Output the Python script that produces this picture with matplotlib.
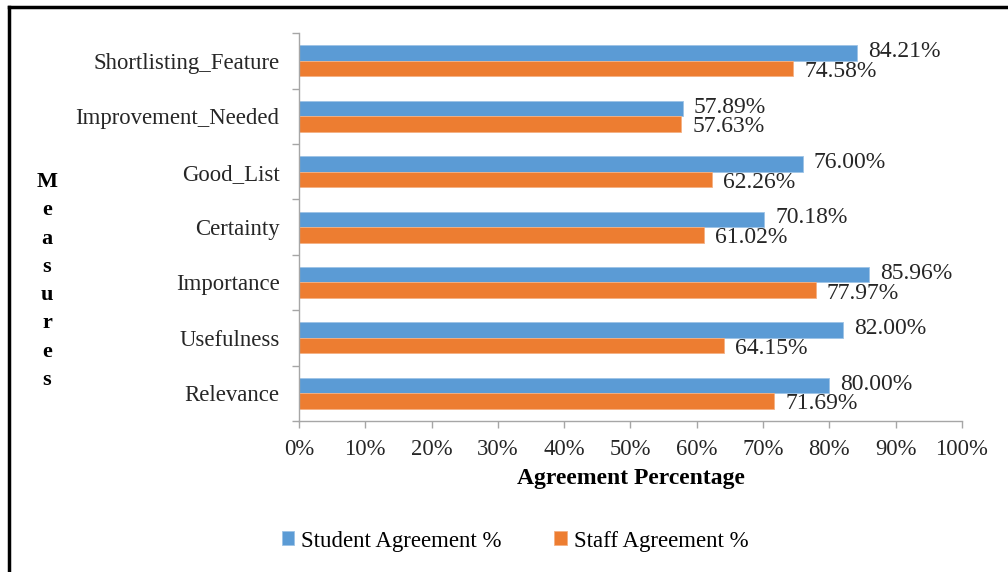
import matplotlib.pyplot as plt
import numpy as np

plt.rcParams['font.family'] = ['Liberation Serif', 'DejaVu Serif']

# measures, bottom to top
measures = ['Relevance', 'Usefulness', 'Importance', 'Certainty',
            'Good_List', 'Improvement_Needed', 'Shortlisting_Feature']
student = [80.00, 82.00, 85.96, 70.18, 76.00, 57.89, 84.21]
staff = [71.69, 64.15, 77.97, 61.02, 62.26, 57.63, 74.58]
xticks = np.arange(0, 101, 10)

blue = '#5B9BD5'
orange = '#ED7D31'
axis_gray = '#A6A6A6'

fig = plt.figure(figsize=(10.08, 5.72), dpi=100)
ax = fig.add_axes([0.2966, 0.264, 0.6577, 0.678])

y = np.arange(len(measures))
h = 0.28
ax.barh(y + h / 2, student, height=h, color=blue, edgecolor='#9DC3E6', linewidth=0.6,
        label='Student Agreement %')
ax.barh(y - h / 2, staff, height=h, color=orange, edgecolor='#F4B183', linewidth=0.6,
        label='Staff Agreement %')

for yi, v in zip(y + h / 2, student):
    ax.annotate(f'{v:.2f}%', (v, yi), xytext=(8, 1), textcoords='offset points',
                va='center', ha='left', fontsize=17, color='#262626')
for yi, v in zip(y - h / 2, staff):
    ax.annotate(f'{v:.2f}%', (v, yi), xytext=(8, -2), textcoords='offset points',
                va='center', ha='left', fontsize=17, color='#262626')

ax.set_xlim(0, 100)
ax.set_ylim(-0.5, len(measures) - 0.5)
ax.set_xticks(xticks)
ax.set_xticklabels([f'{t}%' for t in xticks], fontsize=16.3, color='#262626')
ax.set_yticks(y)
ax.set_yticklabels(measures, fontsize=16.4, color='#262626')
ax.tick_params(axis='y', length=0, pad=14)
ax.set_yticks(np.arange(-0.5, len(measures), 1), minor=True)
ax.tick_params(axis='y', which='minor', length=5, color=axis_gray, width=1)
ax.tick_params(axis='x', length=5, color=axis_gray, width=1, pad=8)

for s in ['top', 'right']:
    ax.spines[s].set_visible(False)
for s in ['left', 'bottom']:
    ax.spines[s].set_color(axis_gray)
    ax.spines[s].set_linewidth(1)

ax.set_xlabel('Agreement Percentage', fontsize=17, fontweight='bold', labelpad=6)

fig.text(47 / 1008, 1 - 281 / 572, '\n'.join('Measures'), ha='center', va='center',
         fontsize=16, fontweight='bold', linespacing=1.55)

ax.legend(loc='center', bbox_to_anchor=(515 / 1008, 1 - 541 / 572),
          bbox_transform=fig.transFigure, ncol=2, frameon=False, fontsize=16.5,
          handlelength=0.55, handleheight=0.55, handletextpad=0.3, columnspacing=2.3)

# outer frame (top and left visible)
fig.add_artist(plt.Line2D([9 / 1008, 1], [1 - 7 / 572, 1 - 7 / 572],
                          transform=fig.transFigure, color='black', linewidth=2.5))
fig.add_artist(plt.Line2D([9 / 1008, 9 / 1008], [0, 1 - 7 / 572],
                          transform=fig.transFigure, color='black', linewidth=2.5))

fig.savefig('out.png', dpi=100)
